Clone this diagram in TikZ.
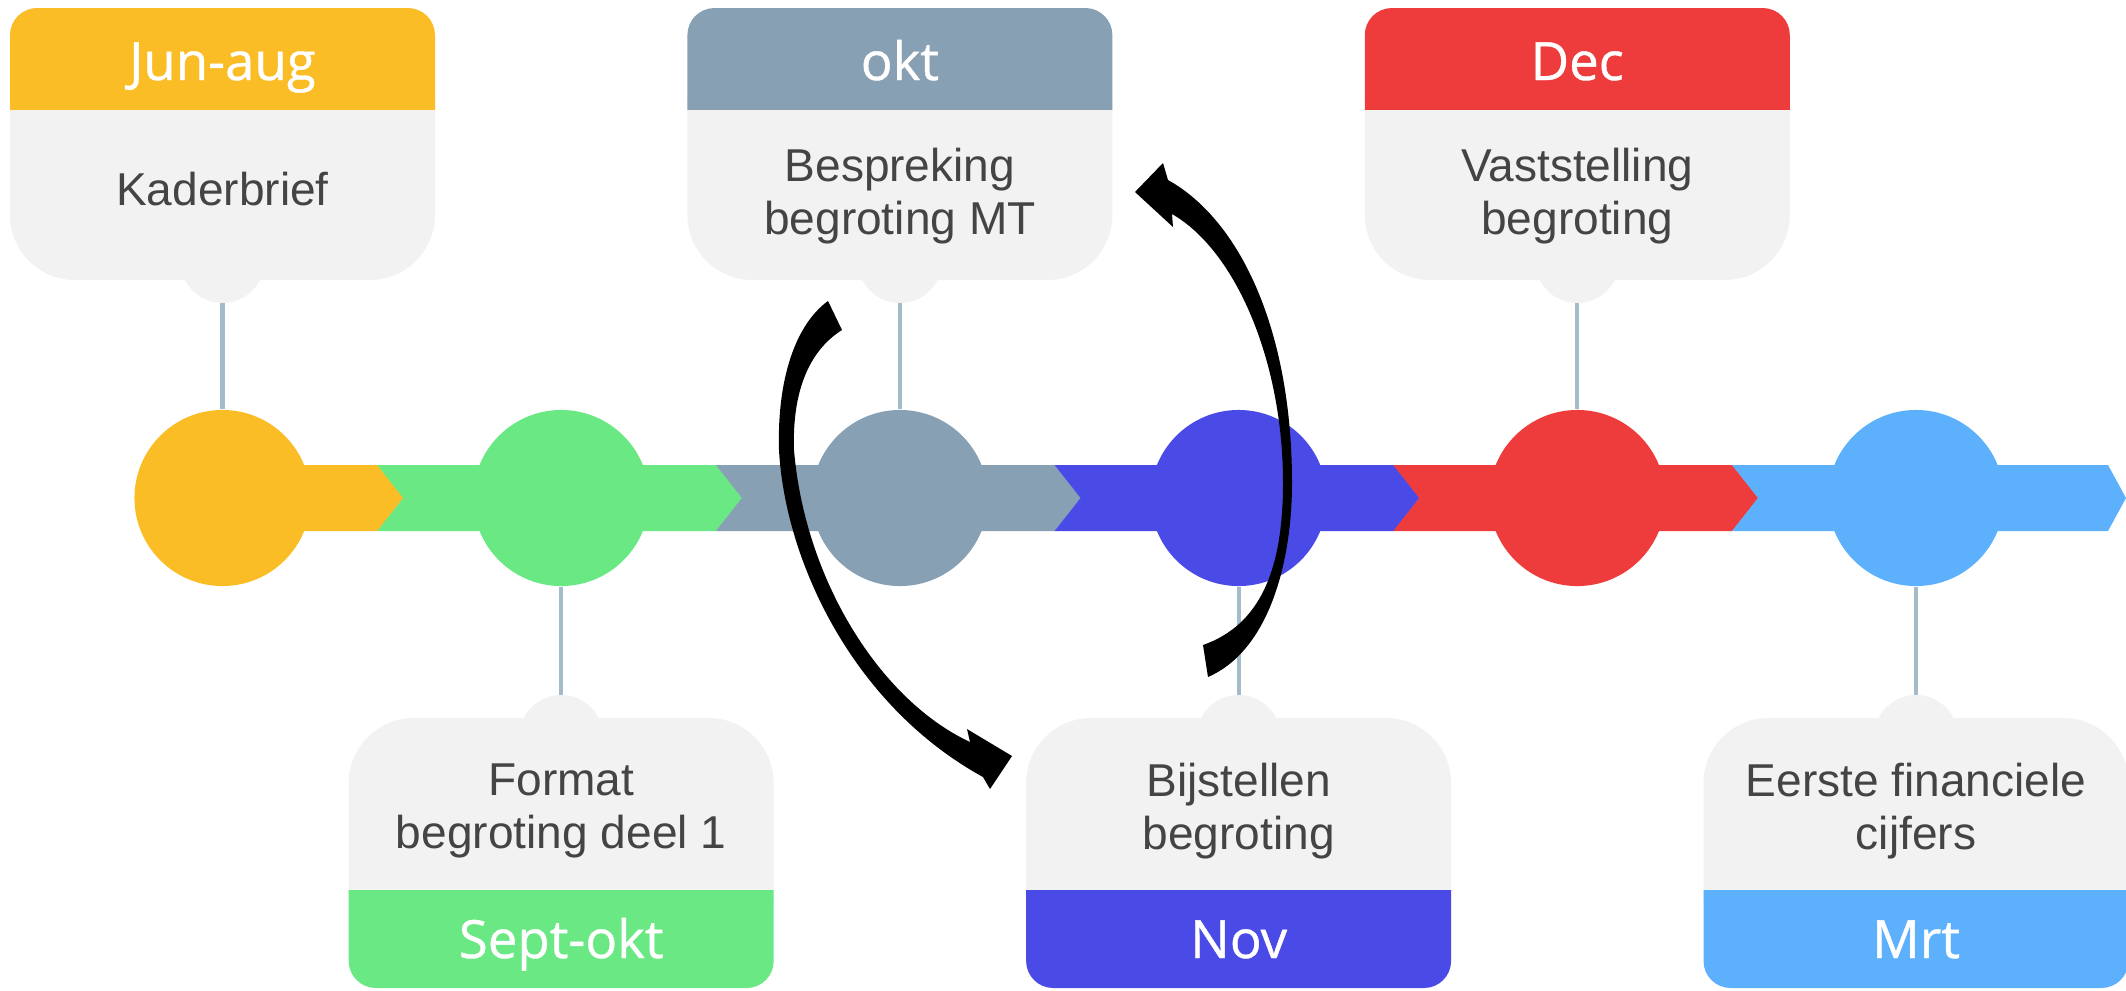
\documentclass[tikz,border=0pt]{standalone}
\usepackage{fontspec}
\setmainfont{Liberation Sans}
\newfontfamily\headfont[FakeBold=0.8]{Open Sans}
\definecolor{cyel}{HTML}{FBBD25}
\definecolor{cgreen}{HTML}{6AE884}
\definecolor{cgray}{HTML}{87A0B4}
\definecolor{cblue}{HTML}{4A4AE6}
\definecolor{cred}{HTML}{EE3B3B}
\definecolor{clblue}{HTML}{5DB0FB}
\definecolor{boxbg}{HTML}{F2F2F2}
\definecolor{connc}{HTML}{A3BBCB}
\definecolor{txtc}{HTML}{444444}
\tikzset{
  dot/.style={circle, minimum size=1.76cm, inner sep=0pt, draw=none},
  headtxt/.style={text=white, font=\headfont\fontsize{15}{18}\selectfont, inner sep=0pt, anchor=base},
  bodytxt/.style={text=txtc, align=center, font=\fontsize{13.1}{15}\selectfont, inner sep=0pt},
  conn/.style={draw=connc, line width=1.15pt},
  bigarrow/.style={fill=black}
}
\newcommand\topbox[6]{%
  \begin{scope}
    \clip (#1-212.5,100) rectangle (#1+212.5,290);
    \fill[boxbg, rounded corners=18.5pt] (#1-212.5,0) rectangle (#1+212.5,280);
  \end{scope}
  \fill[boxbg] (#1,261) circle (42);
  \begin{scope}
    \clip (#1-212.5,0) rectangle (#1+212.5,109);
    \fill[#2, rounded corners=7.7pt] (#1-212.5,8) rectangle (#1+212.5,160);
  \end{scope}
  \node[headtxt] (#5h) at (#1,80) {#3};
  \node[bodytxt] (#5b) at (#1,#6) {#4};
  \coordinate (#5t) at (#1,303);
}
\newcommand\botbox[5]{%
  \begin{scope}
    \clip (#1-212.5,700) rectangle (#1+212.5,900);
    \fill[boxbg, rounded corners=18.5pt] (#1-212.5,718) rectangle (#1+212.5,1100);
  \end{scope}
  \fill[boxbg] (#1,737) circle (42);
  \begin{scope}
    \clip (#1-212.5,890) rectangle (#1+212.5,1000);
    \fill[#2, rounded corners=7.7pt] (#1-212.5,800) rectangle (#1+212.5,988);
  \end{scope}
  \node[headtxt] (#5h) at (#1,958) {#3};
  \node[bodytxt] (#5b) at (#1,811) {#4};
  \coordinate (#5t) at (#1,695);
}
\begin{document}
\begin{tikzpicture}[x=0.01cm,y=-0.01cm]
\useasboundingbox (0,0) rectangle (2126,990);
% timeline bars
\fill[cyel] (222.5,465) -- (377.5,465) -- (403.5,498) -- (377.5,531) -- (222.5,531) -- cycle;
\foreach \c/\col in {561.2/cgreen, 899.9/cgray, 1238.6/cblue, 1577.3/cred}{
  \fill[\col] (\c-184,465) -- (\c+155,465) -- (\c+181,498) -- (\c+155,531) -- (\c-184,531) -- (\c-158,498) -- cycle;
}
\fill[clblue] (1732,465) -- (2108,465) -- (2126,498) -- (2108,531) -- (1732,531) -- (1758,498) -- cycle;
% circles
\node[dot, fill=cyel]   (c1) at (222.5,498) {};
\node[dot, fill=cgreen] (c2) at (561.2,498) {};
\node[dot, fill=cgray]  (c3) at (899.9,498) {};
\node[dot, fill=cblue]  (c4) at (1238.6,498) {};
\node[dot, fill=cred]   (c5) at (1577.3,498) {};
\node[dot, fill=clblue] (c6) at (1916,498) {};
% boxes
\topbox{222.5}{cyel}{Jun-aug}{Kaderbrief}{b1}{189}
\topbox{899.9}{cgray}{okt}{Bespreking\\begroting MT}{b3}{196}
\topbox{1577.3}{cred}{Dec}{Vaststelling\\begroting}{b5}{196}
\botbox{561.2}{cgreen}{Sept-okt}{Format\\begroting deel 1}{b2}
\botbox{1238.6}{cblue}{Nov}{Bijstellen\\begroting}{b4}
\botbox{1916}{clblue}{Mrt}{Eerste financiele\\cijfers}{b6}
% connectors
\draw[conn] (b1t) -- (c1);
\draw[conn] (b3t) -- (c3);
\draw[conn] (b5t) -- (c5);
\draw[conn] (b2t) -- (c2);
\draw[conn] (b4t) -- (c4);
\draw[conn] (b6t) -- (c6);
% curved arrow okt -> nov
\fill[bigarrow] (828,301) .. controls (795,325) and (777,380) .. (779,450)
  .. controls (785,560) and (852,705) .. (983,777)
  -- (990,789) -- (1012,756) -- (967,729) -- (970,742)
  .. controls (880,700) and (805,580) .. (794,450)
  .. controls (792,390) and (810,350) .. (842,330)
  -- cycle;
% curved arrow nov -> okt
\fill[bigarrow] (1208,677) .. controls (1270,650) and (1292,560) .. (1292,483)
  .. controls (1292,330) and (1240,220) .. (1168,180)
  -- (1163,163) -- (1135,192) -- (1173,227) -- (1172,214)
  .. controls (1235,250) and (1283,360) .. (1283,483)
  .. controls (1283,570) and (1260,625) .. (1203,645)
  -- cycle;
\end{tikzpicture}
\end{document}
